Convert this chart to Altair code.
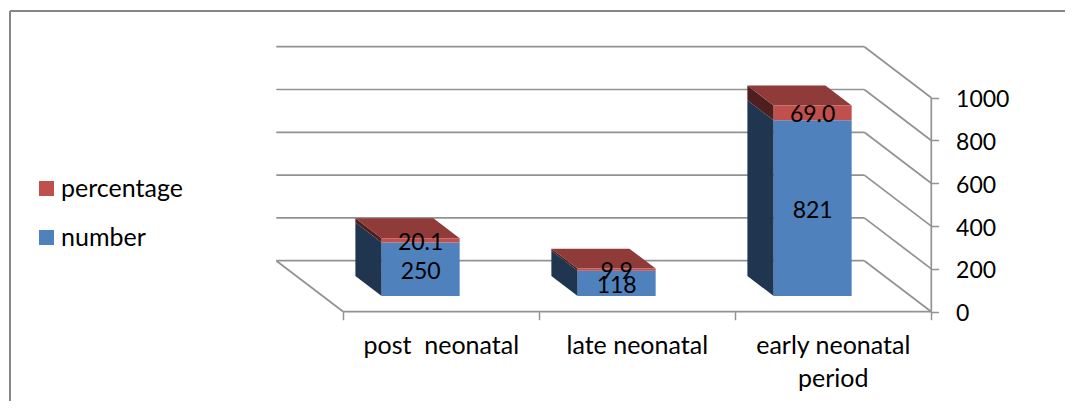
import altair as alt
import pandas as pd

categories = ["post\u00a0 neonatal", "late neonatal", "early neonatal\nperiod"]
number = [250, 118, 821]
percentage = [20.1, 9.9, 69.0]
percentage_labels = ["20.1", "9.9", "69.0"]
y_ticks = [0, 200, 400, 600, 800, 1000]
x_ticks = [0, 1, 2, 3]

FONT = "Lato"
GREY = "#929292"
FRAME = "#868686"
RIGHT = 1065
W, H = RIGHT - 10, 390
BOTTOM = 11 + H
PX_X, PX_Y = 196.0, 0.214          # pixels per category, pixels per value
DX, DY = 67.0 / PX_X, 51.0 / PX_Y  # full floor depth, in data units
D_FRONT, D_BACK = 0.308, 0.70      # where the bars stand on the floor
BAR = 78.0 / PX_X

x_scale = alt.Scale(domain=[(10 - 343.3) / PX_X, (RIGHT - 343.3) / PX_X], nice=False, zero=False)
y_scale = alt.Scale(domain=[(311.7 - BOTTOM) / PX_Y, (311.7 - 11) / PX_Y], nice=False, zero=False)

x_axis = alt.Axis(orient="bottom", values=x_ticks, labels=False, domain=False, grid=False,
                  ticks=True, tickSize=8, tickColor=GREY, tickWidth=1.5, title=None,
                  offset=-(BOTTOM - 311.7))
y_axis = alt.Axis(orient="right", values=y_ticks, domain=False, grid=False, format="d",
                  tickSize=8, tickColor=GREY, tickWidth=1.5, labelPadding=17, title=None,
                  labelFont=FONT, labelFontSize=23, labelColor="#000000", labelOffset=2,
                  offset=-(RIGHT - 930.6))


def px(c, d):
    return c - d * DX


def py(v, d):
    return v + d * DY


# wall and floor lines
lines = []
for v in y_ticks:
    lines += [
        {"id": f"g{v}", "x": px(0, 1), "y": py(v, 1)},
        {"id": f"g{v}", "x": px(3, 1), "y": py(v, 1)},
        {"id": f"w{v}", "x": px(3, 1), "y": py(v, 1)},
        {"id": f"w{v}", "x": px(3, 0), "y": py(v, 0)},
    ]
lines += [
    {"id": "fl", "x": px(0, 1), "y": py(0, 1)},
    {"id": "fl", "x": px(0, 0), "y": py(0, 0)},
    {"id": "ff", "x": px(0, 0), "y": py(0, 0)},
    {"id": "ff", "x": px(3, 0), "y": py(0, 0)},
    {"id": "ax", "x": px(3, 0), "y": py(0, 0)},
    {"id": "ax", "x": px(3, 0), "y": py(1000, 0)},
]

front, side, top, labels = [], [], [], []
for i, cat in enumerate(categories):
    cx = i + 0.5
    xl, xr = cx - BAR / 2, cx + BAR / 2
    base = 0
    for series, val, txt in [("number", number[i], str(number[i])),
                             ("percentage", percentage[i], percentage_labels[i])]:
        lo, hi = base, base + val
        base = hi
        front.append({"series": series, "x": px(xl, D_FRONT), "x2": px(xr, D_FRONT),
                      "y": py(lo, D_FRONT), "y2": py(hi, D_FRONT)})
        labels.append({"x": px(cx, D_FRONT), "y": py((lo + hi) / 2, D_FRONT), "text": txt})
        for d in (D_FRONT, D_BACK):
            side.append({"id": f"{i}{series}", "series": series, "x": px(xl, d),
                         "y": py(lo, d), "y2": py(hi, d)})
    for d in (D_FRONT, D_BACK):
        top.append({"id": i, "y": py(base, d), "x": px(xl, d), "x2": px(xr, d)})

cat_df = pd.DataFrame({"x": [i + 0.5 for i in range(3)], "label": categories})

X = lambda f="x:Q": alt.X(f, scale=x_scale, axis=x_axis)
Y = lambda f="y:Q": alt.Y(f, scale=y_scale, axis=y_axis, stack=None)

frame_left = alt.Chart(pd.DataFrame({"a": [0]})).mark_rule(color=FRAME, strokeWidth=2).encode(
    x=alt.value(0), y=alt.value(0), y2=alt.value(H))
frame_top = alt.Chart(pd.DataFrame({"a": [0]})).mark_rule(color=FRAME, strokeWidth=2).encode(
    y=alt.value(0), x=alt.value(0), x2=alt.value(W))

grid = alt.Chart(pd.DataFrame(lines)).mark_line(color=GREY, strokeWidth=1.7).encode(
    x=X(), y=Y(), detail="id:N", order="x:Q")

side_df = pd.DataFrame(side)
side_blue = alt.Chart(side_df[side_df.series == "number"]).mark_area(
    color="#1f3550", orient="vertical", opacity=1).encode(
    x=X(), y=Y(), y2="y2:Q", detail="id:N")
side_red = alt.Chart(side_df[side_df.series == "percentage"]).mark_area(
    color="#4e1f1e", orient="vertical", opacity=1).encode(
    x=X(), y=Y(), y2="y2:Q", detail="id:N")
top_face = alt.Chart(pd.DataFrame(top)).mark_area(
    color="#8e3b39", orient="horizontal", opacity=1).encode(
    x=X(), x2="x2:Q", y=Y(), detail="id:N")

front_face = alt.Chart(pd.DataFrame(front)).mark_rect().encode(
    x=X(), x2="x2:Q", y=Y(), y2="y2:Q",
    color=alt.Color("series:N",
                    scale=alt.Scale(domain=["percentage", "number"], range=["#c0504d", "#4f81bd"]),
                    legend=alt.Legend(orient="none", legendX=24, legendY=165, title=None,
                                      symbolType="square", symbolSize=225, symbolStrokeWidth=0,
                                      labelFont=FONT, labelFontSize=25, labelColor="#000000",
                                      rowPadding=23, labelOffset=2, padding=0)),
)

value_labels = alt.Chart(pd.DataFrame(labels)).mark_text(
    font=FONT, fontSize=23, color="#000000", dy=2.5, baseline="middle").encode(
    x=X(), y=Y(), text="text:N")

cat_labels = alt.Chart(cat_df).mark_text(
    font=FONT, fontSize=25, color="#000000", lineBreak="\n", lineHeight=33, baseline="middle").encode(
    x=X(), y=alt.value(335), text="label:N")

chart = alt.layer(
    frame_left, frame_top, grid, side_blue, side_red, top_face, front_face, value_labels, cat_labels
).properties(
    width=W, height=H,
    padding={"left": 2, "top": 3, "right": 0, "bottom": 0},
    autosize=alt.AutoSizeParams(type="none"),
    background="#ffffff",
).configure_view(stroke=None)

chart.save("out.html", embed_options={"renderer": "svg", "actions": False})
